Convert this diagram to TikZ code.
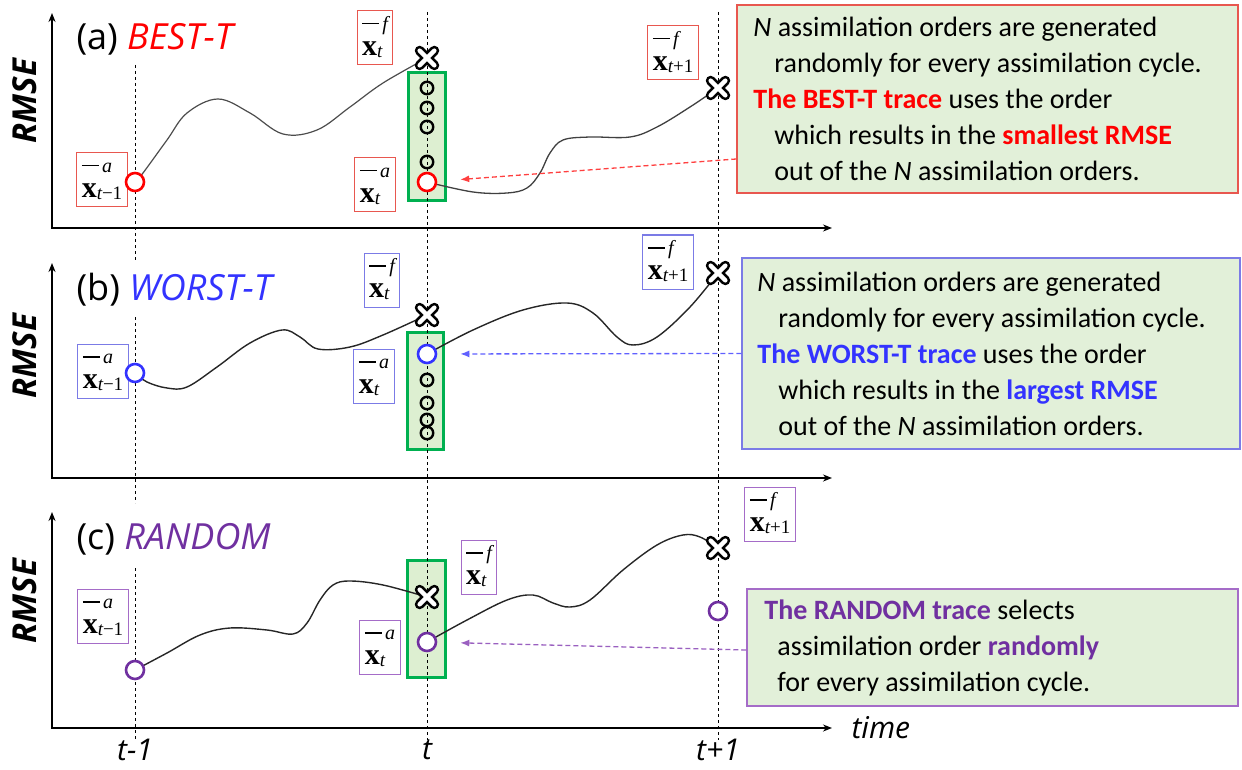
\RequirePackage{fix-cm}
\documentclass[tikz,border=0pt]{standalone}
\usepackage[no-math]{fontspec}
\setmainfont{Carlito}
\newfontfamily\osans{Open Sans}
\newfontfamily\tms{Liberation Serif}
\usetikzlibrary{arrows.meta,shapes.misc}
\definecolor{cred}{HTML}{FF0000}
\definecolor{cblue}{HTML}{3333FF}
\definecolor{cpurp}{HTML}{7030A0}
\definecolor{bred}{HTML}{E8574F}
\definecolor{bblue}{HTML}{7B7BE6}
\definecolor{bpurp}{HTML}{A56CC8}
\definecolor{aredd}{HTML}{FF4040}
\definecolor{ablue}{HTML}{6060FF}
\definecolor{apurp}{HTML}{9A60C0}
\definecolor{gborder}{HTML}{00B050}
\definecolor{gfill}{HTML}{DDEFD1}
\definecolor{tfill}{HTML}{E2F0D9}
\newcommand\xlab[2]{\begin{tabular}{@{}l@{}}\rule[6pt]{17pt}{1.8pt}{\fontsize{20}{20}\selectfont\itshape\,#1}\\{\bfseries x}\raisebox{-2pt}{\fontsize{19}{19}\selectfont #2}\end{tabular}}
\begin{document}
\begin{tikzpicture}[x=1pt,y=-1pt,
  axis/.style={line width=2pt,{Stealth[length=9pt,width=7pt]}-{Stealth[length=9pt,width=7pt]}},
  vdash/.style={line width=1pt,dash pattern=on 3pt off 3pt},
  curve/.style={line width=1.4pt,black!85},
  gbox/.style={draw=gborder,fill=gfill,line width=3pt},
  bigc/.style={circle,draw,line width=2.6pt,fill=white,minimum size=18pt,inner sep=0pt},
  smc/.style={circle,draw=black,line width=2.4pt,minimum size=12.5pt,inner sep=0pt},
  xm/.style={cross out,draw=black,double=white,line width=2.7pt,double distance=4.4pt,minimum size=12pt,inner sep=0pt,line cap=round},
  lab/.style={draw,line width=1pt,fill=white,inner xsep=5pt,inner ysep=2pt,font=\tms\fontsize{30}{25}\selectfont},
  ttl/.style={anchor=base west,font=\osans\fontsize{36}{40}\selectfont},
  rmse/.style={rotate=90,font=\osans\bfseries\itshape\fontsize{33}{36}\selectfont},
  tlab/.style={font=\osans\itshape\fontsize{30}{32}\selectfont},
  notebox/.style={draw,line width=1.5pt,fill=tfill},
  notetext/.style={anchor=west,align=left,inner sep=0pt,font=\fontsize{28}{36}\selectfont},
  arr/.style={line width=1.3pt,dash pattern=on 5pt off 3pt,-{Latex[length=9pt,width=7pt]},shorten >=23pt}
]
\useasboundingbox (0,0) rectangle (1242,770);

% green boxes
\draw[gbox] (408,73) rectangle (445,201);
\draw[gbox] (407,332) rectangle (443,449);
\draw[gbox] (407,560) rectangle (445,677);

% dashed time lines
\draw[vdash] (135,65) -- (135,260);
\draw[vdash] (135,317) -- (135,503);
\draw[vdash] (135,568) -- (135,740);
\draw[vdash] (427,12) -- (427,740);
\draw[vdash] (718,12) -- (718,740);

% axes
\draw[axis] (52,13) |- (832,228);
\draw[axis] (52,263) |- (832,478);
\draw[axis] (52,512) |- (832,728);

% point coordinates
\coordinate (pa1) at (135,182);
\coordinate (pa2) at (427,182);
\coordinate (pxa1) at (427,58);
\coordinate (pxa2) at (718,88);
\coordinate (pb1) at (135,373);
\coordinate (pb2) at (427,354);
\coordinate (pxb1) at (427,315);
\coordinate (pxb2) at (718,273);
\coordinate (pc1) at (135,670);
\coordinate (pc2) at (427,642);
\coordinate (pc3) at (718,611);
\coordinate (pxc1) at (427,597);
\coordinate (pxc2) at (718,548);

% curves
\draw[curve,black!70,line width=1.2pt] plot[smooth,tension=0.6] coordinates {(pa1) (143,173) (167,140) (187,113) (218,99) (250,113) (283,134) (317,130) (350,107) (383,83) (pxa1)};
\draw[curve,black!75,line width=1.3pt] plot[smooth,tension=0.6] coordinates {(pa2) (473,192) (507,193) (527,188) (540,173) (550,153) (563,140) (590,137) (630,137) (657,127) (690,107) (pxa2)};
\draw[curve] plot[smooth,tension=0.6] coordinates {(pb1) (147,382) (167,388) (187,387) (217,367) (250,343) (282,330) (300,337) (318,349) (350,347) (383,335) (pxb1)};
\draw[curve] plot[smooth,tension=0.6] coordinates {(pb2) (473,330) (523,310) (567,303) (593,313) (617,337) (633,345) (657,337) (690,307) (pxb2)};
\draw[curve] plot[smooth,tension=0.6] coordinates {(pc1) (167,653) (200,635) (230,628) (267,630) (293,634) (307,623) (320,600) (333,585) (350,581) (383,585) (pxc1)};
\draw[curve] plot[smooth,tension=0.6] coordinates {(pc2) (467,620) (507,600) (533,595) (553,603) (570,607) (590,600) (623,570) (657,545) (683,535) (700,537) (pxc2)};

% math labels
\node[lab,draw=bred] (la1) at (102,180) {\xlab{a}{\itshape t\upshape −1}};
\node[lab,draw=bred] (la2) at (375,38) {\xlab{f}{\itshape t}};
\node[lab,draw=bred] (la3) at (375,185) {\xlab{a}{\itshape t}};
\node[lab,draw=bred] (la4) at (673,53) {\xlab{f}{\itshape t\upshape +1}};
\node[lab,draw=bblue] (lb1) at (103,371) {\xlab{a}{\itshape t\upshape −1}};
\node[lab,draw=bblue] (lb2) at (382,280) {\xlab{f}{\itshape t}};
\node[lab,draw=bblue] (lb3) at (374,376) {\xlab{a}{\itshape t}};
\node[lab,draw=bblue] (lb4) at (668,262) {\xlab{f}{\itshape t\upshape +1}};
\node[lab,draw=bpurp] (lc1) at (103,616) {\xlab{a}{\itshape t\upshape −1}};
\node[lab,draw=bpurp] (lc2) at (380,647) {\xlab{a}{\itshape t}};
\node[lab,draw=bpurp] (lc3) at (479,567) {\xlab{f}{\itshape t}};
\node[lab,draw=bpurp] (lc4) at (770,514) {\xlab{f}{\itshape t\upshape +1}};

% panel (a) markers
\node[bigc,draw=cred] (ca1) at (pa1) {};
\node[smc] (sa1) at (427,88) {};
\node[smc] (sa2) at (427,108) {};
\node[smc] (sa3) at (427,127) {};
\node[smc] (sa4) at (427,162) {};
\node[bigc,draw=cred] (ca2) at (pa2) {};
\node[xm] (xa1) at (pxa1) {};
\node[xm] (xa2) at (pxa2) {};

% panel (b) markers
\node[bigc,draw=cblue] (cb1) at (pb1) {};
\node[bigc,draw=cblue] (cb2) at (pb2) {};
\node[smc] (sb1) at (427,380) {};
\node[smc] (sb2) at (427,403) {};
\node[smc] (sb3) at (427,420) {};
\node[smc] (sb4) at (427,433) {};
\node[xm] (xb1) at (pxb1) {};
\node[xm] (xb2) at (pxb2) {};

% panel (c) markers
\node[bigc,draw=cpurp] (cc1) at (pc1) {};
\node[bigc,draw=cpurp] (cc2) at (pc2) {};
\node[bigc,draw=cpurp] (cc3) at (pc3) {};
\node[xm] (xc1) at (pxc1) {};
\node[xm] (xc2) at (pxc2) {};

% titles
\node[ttl] (tia) at (73,50) {(a) \textcolor{cred}{\itshape BEST-T}};
\node[ttl] (tib) at (73,300) {(b) \textcolor{cblue}{\itshape WORST-T}};
\node[ttl] (tic) at (73,549) {(c) \textcolor{cpurp}{\itshape RANDOM}};

% RMSE labels
\node[rmse] (ra) at (25,101) {RMSE};
\node[rmse] (rb) at (25,356) {RMSE};
\node[rmse] (rc) at (25,601) {RMSE};

% time labels
\node[tlab] (t0) at (135,750) {t-1};
\node[tlab] (t1) at (427,750) {t};
\node[tlab] (t2) at (718,750) {t+1};
\node[tlab,anchor=west] (tm) at (848,728) {time};

% note boxes
\node[notebox,draw=bred,minimum width=501pt,minimum height=188pt] (tba) at (987.5,99) {};
\node[notetext] (tta) at ([xshift=17pt]tba.west) {\textit{N} assimilation orders are generated\\
\hspace*{21pt}randomly for every assimilation cycle.\\
\textcolor{cred}{\bfseries The BEST-T trace} uses the order\\
\hspace*{21pt}which results in the \textcolor{cred}{\bfseries smallest RMSE}\\
\hspace*{21pt}out of the \textit{N} assimilation orders.};

\node[notebox,draw=bblue,minimum width=498pt,minimum height=191pt] (tbb) at (991,353.5) {};
\node[notetext] (ttb) at ([xshift=16pt]tbb.west) {\textit{N} assimilation orders are generated\\
\hspace*{21pt}randomly for every assimilation cycle.\\
\textcolor{cblue}{\bfseries The WORST-T trace} uses the order\\
\hspace*{21pt}which results in the \textcolor{cblue}{\bfseries largest RMSE}\\
\hspace*{21pt}out of the \textit{N} assimilation orders.};

\node[notebox,draw=bpurp,minimum width=491pt,minimum height=117pt] (tbc) at (992.5,647.5) {};
\node[notetext] (ttc) at ([xshift=18pt]tbc.west) {\textcolor{cpurp}{\bfseries The RANDOM trace} selects\\
\hspace*{13pt}assimilation order \textcolor{cpurp}{\bfseries randomly}\\
\hspace*{13pt}for every assimilation cycle.};

% pointer arrows
\draw[arr,aredd] ([yshift=-60pt]tba.west) -- (ca2);
\draw[arr,ablue] (tbb.west) -- (cb2);
\draw[arr,apurp] ([yshift=-2.5pt]tbc.west) -- (cc2);
\end{tikzpicture}
\end{document}
